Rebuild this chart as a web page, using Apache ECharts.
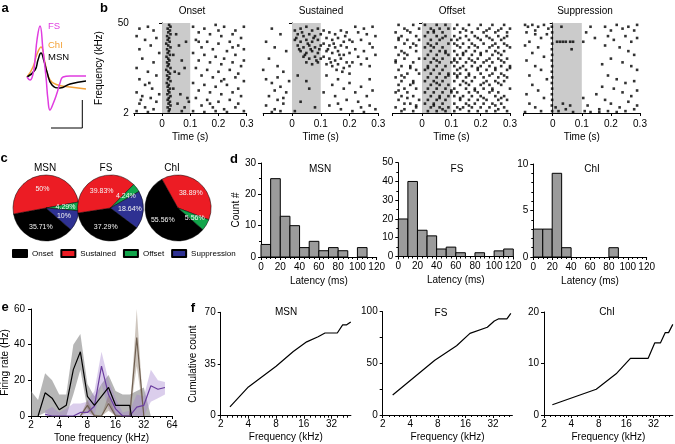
<!DOCTYPE html>
<html><head><meta charset="utf-8">
<script src="https://cdn.jsdelivr.net/npm/echarts@6/dist/echarts.min.js"></script>
<style>html,body{margin:0;padding:0;background:#fff}#c{width:675px;height:444px}</style>
</head><body><div id="c"></div>
<script>
// ---------- panel a: mean waveforms [t, amplitude] ----------
const wfFS  = [[0,0],[3,-3],[6,3],[8,17],[10,37],[13,51],[16,27],[19,0],[21,-23],[23,-33],[26,-27],[30,-16],[33,-6],[36,0],[43,1],[59,1]];
const wfChI = [[0,0],[6,10],[10,23],[14,30],[18,14],[23,-3],[31,-8],[43,-10],[59,-12]];
const wfMSN = [[0,0],[8,7],[11,17],[14,24],[17,16],[20,5],[25,-8],[33,-11],[43,-7],[59,-4]];
const scaleBar = [[24,-51],[55.3,-51],[55.3,-23]];

// ---------- panel b: rasters [time s, frequency kHz] ----------
const onsetDots = [
[0.025,49],[0.03,48],[0.02,47],[0.028,46],[0.022,45],[0.03,44],[0.018,43],[0.025,42],[0.02,41],[0.027,40],[0.015,39],[0.022,38],[0.03,37],[0.018,36],[0.025,35],[0.02,34],[0.028,33],[0.016,32],[0.022,31],[0.026,30],[0.018,29],[0.024,28],[0.02,27],[0.03,26],[0.015,25],[0.022,24],[0.028,23],[0.018,22],[0.025,21],[0.021,20],[0.03,19],[0.017,18],[0.024,17],[0.02,16],[0.028,15],[0.022,14],[0.026,13],[0.019,12],[0.03,11],[0.024,10],[0.02,9],[0.028,8],[0.023,7],[0.03,6],[0.02,5],[0.027,4],[0.024,3],
[0.05,44],[0.07,30],[0.045,24],[0.06,23],[0.08,26],[0.04,15],[0.065,12],[0.09,10],[0.055,7],[0.08,5],[0.095,8],[0.07,3],[0.04,33],[0.085,40],[0.06,38],
[-0.08,47],[-0.05,48],[-0.03,46],[-0.09,43],[-0.06,41],[-0.02,42],[-0.04,38],[-0.08,36],[-0.01,34],[-0.07,31],[-0.03,29],[-0.09,26],[-0.05,24],[-0.02,22],[-0.08,20],[-0.06,17],[-0.035,15],[-0.09,13],[-0.07,11],[-0.04,10],[-0.02,8],[-0.08,7],[-0.06,5],[-0.03,4],[-0.09,3],[-0.05,2.5],[-0.01,12],[-0.075,9],[-0.045,18],
[0.11,48],[0.15,47],[0.19,49],[0.22,48],[0.26,46],[0.29,48],[0.13,45],[0.17,44],[0.21,43],[0.25,44],[0.28,42],[0.12,41],[0.16,40],[0.2,39],[0.24,40],[0.27,38],[0.14,37],[0.18,36],[0.23,35],[0.29,36],[0.11,34],[0.15,33],[0.19,32],[0.22,31],[0.26,33],[0.13,30],[0.17,29],[0.21,28],[0.25,29],[0.28,27],[0.12,26],[0.16,25],[0.2,24],[0.24,25],[0.27,23],[0.14,22],[0.18,21],[0.22,20],[0.26,21],[0.29,19],[0.11,18],[0.15,17],[0.19,16],[0.23,17],[0.27,15],[0.13,14],[0.17,13],[0.21,12],[0.25,13],[0.28,11],[0.12,10],[0.16,9],[0.2,8],[0.24,9],[0.27,7],[0.14,6],[0.18,5],[0.22,4],[0.26,5],[0.29,3],[0.11,3],[0.15,2.5],[0.19,3],[0.23,2.5],[0.17,7],[0.21,19],[0.25,37],[0.29,30],[0.13,40],[0.2,46]
];
const sustainedDots = [
[-0.07,47],[-0.04,44],[-0.09,40],[-0.06,37],[-0.02,35],[-0.08,31],[-0.05,27],[-0.03,24],[-0.09,20],[-0.07,18],[-0.04,16],[-0.06,14],[-0.02,13],[-0.08,11],[-0.05,9],[-0.03,7],[-0.09,6],[-0.06,4],[-0.04,3],[-0.07,2.5],[-0.01,19],[-0.05,21],[-0.1,25],[-0.03,10],
[0.01,46],[0.03,47],[0.05,48],[0.07,46],[0.09,47],[0.02,44],[0.04,43],[0.06,44],[0.08,43],[0.1,44],[0.01,41],[0.03,40],[0.05,41],[0.07,40],[0.09,41],[0.02,38],[0.04,37],[0.06,38],[0.08,37],[0.1,38],[0.03,35],[0.05,34],[0.07,35],[0.09,34],[0.04,32],[0.06,31],[0.08,32],[0.1,31],[0.05,29],[0.07,28],[0.09,29],[0.015,42],[0.035,45],[0.055,39],[0.075,42],[0.095,36],[0.025,36],[0.045,33],[0.065,36],[0.085,30],
[0.02,22],[0.06,15],[0.03,8],[0.08,5],[0.01,3],[0.05,19],
[0.11,46],[0.13,45],[0.15,44],[0.17,46],[0.19,45],[0.12,42],[0.14,41],[0.16,42],[0.18,40],[0.2,41],[0.11,39],[0.13,38],[0.15,37],[0.17,38],[0.19,37],[0.12,35],[0.14,34],[0.16,35],[0.18,33],[0.2,34],[0.11,32],[0.13,31],[0.15,30],[0.17,31],[0.19,29],[0.12,28],[0.14,27],[0.16,28],[0.18,26],[0.2,27],[0.125,36],[0.145,39],[0.165,33],[0.185,43],[0.135,29],[0.155,25],[0.175,24],
[0.22,48],[0.25,47],[0.28,48],[0.23,45],[0.26,44],[0.29,43],[0.21,40],[0.24,41],[0.27,39],[0.22,36],[0.25,35],[0.28,37],[0.23,32],[0.26,31],[0.29,33],[0.21,29],[0.24,28],[0.27,27],
[0.12,22],[0.16,20],[0.2,18],[0.24,16],[0.28,14],[0.14,17],[0.18,15],[0.22,13],[0.26,11],[0.11,13],[0.15,11],[0.19,9],[0.23,8],[0.27,6],[0.13,6],[0.17,4],[0.21,3],[0.25,2.5],[0.29,4],[0.2,23],[0.27,20],[0.16,7],[0.24,5]
];
// offset raster given as trial rows: [frequency, spike times]
const offsetRows = [
[49,[-0.08,-0.03,0.01,0.05,0.08,0.12,0.16,0.2,0.24,0.28]],
[47,[-0.06,-0.01,0.03,0.06,0.09,0.11,0.14,0.19,0.23,0.27,0.3]],
[46,[-0.05,0.04,0.15,0.22,0.26]],
[45,[-0.09,-0.04,0.02,0.04,0.07,0.13,0.17,0.21,0.25,0.29]],
[43,[-0.07,-0.02,0.01,0.05,0.08,0.11,0.15,0.18,0.22,0.26,0.29]],
[42,[-0.08,0.07,0.13,0.19,0.23,0.28]],
[41,[-0.08,-0.05,-0.01,0.03,0.06,0.1,0.12,0.16,0.2,0.24,0.27]],
[39,[-0.06,-0.03,0.02,0.05,0.09,0.11,0.14,0.17,0.21,0.25,0.28]],
[38,[-0.02,0.03,0.12,0.18,0.24,0.29]],
[37,[-0.09,-0.04,0.01,0.04,0.07,0.13,0.16,0.19,0.23,0.26,0.3]],
[35,[-0.07,-0.02,0.03,0.06,0.08,0.11,0.15,0.18,0.22,0.25,0.28]],
[34,[-0.06,0.08,0.14,0.2,0.26]],
[33,[-0.08,-0.05,0.02,0.05,0.09,0.12,0.14,0.17,0.2,0.24,0.27]],
[31,[-0.06,-0.01,0.01,0.04,0.07,0.11,0.13,0.16,0.19,0.23,0.26,0.29]],
[30,[-0.09,0.05,0.11,0.17,0.22,0.27]],
[29,[-0.09,-0.03,0.03,0.06,0.1,0.12,0.15,0.18,0.21,0.24,0.28]],
[27,[-0.07,-0.04,0.02,0.05,0.08,0.11,0.14,0.17,0.2,0.23,0.27,0.3]],
[26,[-0.04,0.02,0.13,0.19,0.25,0.3]],
[25,[-0.08,-0.02,0.01,0.04,0.07,0.12,0.15,0.19,0.22,0.25,0.29]],
[23,[-0.05,-0.01,0.03,0.06,0.09,0.11,0.13,0.16,0.2,0.24,0.27]],
[22,[-0.07,0.09,0.12,0.16,0.23,0.28]],
[21,[-0.09,-0.06,0.02,0.05,0.08,0.12,0.15,0.18,0.21,0.26,0.29]],
[19,[-0.07,-0.03,0.01,0.04,0.07,0.11,0.14,0.17,0.22,0.25,0.28]],
[18,[-0.03,0.05,0.15,0.21,0.26]],
[17,[-0.08,-0.04,0.03,0.06,0.09,0.13,0.16,0.2,0.23,0.27]],
[15,[-0.06,-0.02,0.02,0.05,0.08,0.11,0.15,0.18,0.21,0.24,0.3]],
[14,[-0.08,0.1,0.18,0.24]],
[13,[-0.09,-0.05,0.01,0.04,0.07,0.1,0.12,0.16,0.19,0.23,0.26]],
[11,[-0.07,-0.03,0.03,0.06,0.09,0.11,0.14,0.17,0.2,0.25,0.28]],
[10,[-0.05,0.06,0.13,0.21,0.27]],
[9,[-0.08,-0.01,0.02,0.05,0.08,0.13,0.16,0.19,0.22,0.26,0.29]],
[7,[-0.06,-0.04,0.01,0.04,0.07,0.11,0.15,0.18,0.21,0.24,0.27]],
[6,[-0.02,0.04,0.16,0.25]],
[5,[-0.09,-0.02,0.03,0.06,0.09,0.12,0.14,0.17,0.2,0.23,0.28]],
[4,[-0.06,0.07,0.13,0.26]],
[3,[-0.07,-0.03,0.02,0.05,0.08,0.11,0.16,0.19,0.22,0.25,0.29]]
];
const suppressionDots = [
[-0.095,49],[-0.085,48],[-0.07,49],[-0.05,48],[-0.03,49],[-0.015,47],[-0.09,45],[-0.06,44],[-0.04,42],[-0.08,40],[-0.095,38],[-0.05,37],[-0.07,34],[-0.03,32],[-0.09,30],[-0.06,27],[-0.04,25],[-0.08,22],[-0.02,20],[-0.07,17],[-0.05,14],[-0.09,12],[-0.03,10],[-0.08,7],[-0.06,5],[-0.04,3],[-0.095,2.5],[-0.02,44],[-0.06,46],
[-0.003,48],[-0.002,45],[-0.003,42],[-0.002,39],[-0.003,36],[-0.002,33],[-0.003,30],[-0.002,27],[-0.003,24],[-0.002,21],[-0.003,18],[-0.002,15],[-0.003,12],[-0.002,9],[-0.003,6],[-0.002,3],
[0.015,40],[0.025,40],[0.035,40],[0.045,40],[0.06,40],[0.07,40],[0.065,36],[0.01,5],[0.02,3],[0.035,7],[0.045,4],[0.06,6],[0.07,2.5],[0.03,48],
[0.105,40],[0.115,45],[0.13,48],[0.145,42],[0.11,3],[0.12,6],[0.13,2.5],[0.16,4],[0.105,10],
[0.18,48],[0.2,46],[0.22,49],[0.24,47],[0.26,48],[0.28,46],[0.29,49],[0.19,43],[0.21,41],[0.25,43],[0.27,40],[0.29,42],[0.18,38],[0.23,37],[0.26,35],[0.28,33],[0.2,31],[0.24,29],[0.27,27],[0.29,25],[0.19,22],[0.22,20],[0.25,18],[0.28,19],[0.17,16],[0.21,15],[0.24,13],[0.27,11],[0.29,14],[0.18,9],[0.2,7],[0.23,5],[0.26,8],[0.28,4],[0.16,2.5],[0.19,3],[0.22,2.5],[0.25,3],[0.29,6],[0.15,12],[0.17,28]
];
const rasterTitles = ['Onset','Sustained','Offset','Suppression'];

// ---------- panel c: response type percentages ----------
const pieNames  = ['Onset','Sustained','Offset','Suppression'];
const pieColors = ['#000000','#ec1c24','#12a54b','#2e3192'];
const pctMSN = [35.71, 50, 4.29, 10];
const pctFS  = [37.29, 39.83, 4.24, 18.64];
const pctChI = [55.56, 38.89, 5.56, 0];

// ---------- panel d: latency histograms (10 ms bins) ----------
const binStarts = [0,10,20,30,40,50,60,70,80,90,100,110];
const latMSN = [4,25,13,10,3,5,2,3,2,0,3,0];
const latFS  = [20,40,14,11,4,5,2,0,2,0,3,4];
const latChI = [3,3,9,1,0,0,0,0,1,0,0,0];

// ---------- panel e: tuning curves [kHz, Hz] and bands [kHz, low, high] ----------
const rateBlack  = [[2.38,0],[2.83,13],[3.36,10],[4,3.5],[4.76,6],[5.66,26],[6.73,36],[8,11],[9.51,6],[11.31,11],[13.45,16],[16,6],[19.03,6],[22.63,6],[23.6,0]];
const rateBrown  = [[6.73,0],[8,6],[9.51,0],[11.31,0],[13.45,7],[16,0],[19.03,0],[22.63,0],[26.91,44],[32,0]];
const ratePurple = [[2.83,1],[3.36,0],[4,0],[4.76,0],[5.66,0],[6.73,2],[8,2],[9.51,5.5],[11.31,28],[13.45,12],[16,4],[19.03,0],[22.63,0],[26.91,5],[32,6],[38.05,17],[45.25,15],[53.82,16]];
const bandBlack  = [[2,0,14],[2.38,0,9],[2.83,2,24],[3.36,0,20],[4,0,12],[4.76,0,12],[5.66,12,40],[6.73,26,46],[8,4,18],[9.51,0,11],[11.31,0,18],[13.45,8,23],[16,0,14],[19.03,0,12],[22.63,0,12],[26.91,0,14],[32,0,16],[38.05,0,0]];
const bandPurple = [[2.83,0,3],[3.36,0,5],[4,0,2],[4.76,0,4],[5.66,0,7],[6.73,0,7],[8,0,8],[9.51,0,14],[11.31,18,36],[13.45,4,20],[16,0,10],[19.03,0,2],[22.63,0,3],[26.91,0,12],[32,0,11],[38.05,8,26],[45.25,10,20],[53.82,12,19]];
const bandBrown  = [[6.73,0,0],[8,2,9],[9.51,0,1],[11.31,0,0],[13.45,3,12],[16,0,1],[19.03,0,0],[22.63,0,0],[26.91,28,60],[32,0,0]];

// ---------- panel f: cumulative counts [kHz, count] ----------
const cumMSN = [[2.52,6],[4,19.5],[8,33.5],[12.3,43.5],[17.2,50],[22.9,53.5],[27.2,56],[37,56],[42.3,61.5],[46.8,61.5],[51.8,63.5]];
const cumFS  = [[2.57,19.4],[7.4,53],[12.8,67],[17.9,79],[27.7,85],[33,91],[36.5,93],[45.3,93],[50,98.4]];
const cumChI = [[2.47,2],[7.5,5],[12.4,8],[17.8,11],[27.9,11],[32.9,14],[38,14],[43,16],[46.7,16],[52,17.6]];
const fTicks = [2,4,8,16,32];

// ================= build =================
const FONT = '"Liberation Sans", Arial, Helvetica, sans-serif';
const offsetDots = [];
offsetRows.forEach(r => r[1].forEach(t => offsetDots.push([t, r[0]])));
const rasterData = [onsetDots, sustainedDots, offsetDots, suppressionDots];

const AL = {show:true, lineStyle:{color:'#000', width:1}};
const AT = {show:true, length:3, lineStyle:{color:'#000', width:1}};
const lab = (o) => Object.assign({fontSize:10, color:'#000', fontFamily:FONT}, o||{});
const nameStyle = {fontSize:10, color:'#000', fontFamily:FONT};

const grids = [
  [27,17,60,120],
  [133.8,23,112.9,90],[263.2,23,115.1,90],[392.7,23,117.3,90],[523.6,23,116.4,90],
  [261,163,115.7,94],[398.3,162.7,115,93.8],[533.3,164,113.4,93],
  [31,309,141,107],
  [220.7,312.3,130.2,103.4],[382.7,311.7,129.7,103.3],[544,312,128.8,103]
].map(g => ({left:g[0], top:g[1], width:g[2], height:g[3], containLabel:false, outerBoundsMode:'none'}));

const xAxes = [], yAxes = [], series = [];
// a
xAxes.push({type:'value', gridIndex:0, min:0, max:60, show:false});
yAxes.push({type:'value', gridIndex:0, min:-60, max:60, show:false});
// b
for (let i = 0; i < 4; i++) {
  xAxes.push({type:'value', gridIndex:1+i, min:-0.1, max:0.3, interval:0.1, axisLine:AL, axisTick:AT, splitLine:{show:false},
    axisLabel:lab({margin:6, formatter: v => v < -0.05 ? '' : String(Math.round(v*10)/10)}),
    name:'Time (s)', nameLocation:'middle', nameGap:19, nameTextStyle:nameStyle});
  yAxes.push({type:'value', gridIndex:1+i, min:2, max:50, axisLine:AL, axisTick:Object.assign({}, AT, {customValues:[2,50]}),
    splitLine:{show:false}, axisLabel:lab({show:i===0, margin:5, customValues:[2,50]}),
    name: i===0 ? 'Frequency (kHz)' : '', nameLocation:'middle', nameGap:30, nameRotate:90, nameTextStyle:nameStyle});
}
// d
const hMax = [30,50,10], hInt = [10,10,5], hMinor = [2,2,5];
for (let i = 0; i < 3; i++) {
  xAxes.push({type:'value', gridIndex:5+i, min:0, max:120, interval:20, axisLine:AL, axisTick:AT,
    minorTick:{show:true, splitNumber:4, length:2, lineStyle:{color:'#000'}}, splitLine:{show:false}, minorSplitLine:{show:false},
    axisLabel:lab({margin:5}), name:'Latency (ms)', nameLocation:'middle', nameGap:19, nameTextStyle:nameStyle});
  yAxes.push({type:'value', gridIndex:5+i, min:0, max:hMax[i], interval:hInt[i], axisLine:AL, axisTick:AT,
    minorTick:{show:true, splitNumber:hMinor[i], length:2, lineStyle:{color:'#000'}}, splitLine:{show:false}, minorSplitLine:{show:false},
    axisLabel:lab({margin:5}), name: i===0 ? 'Count #' : '', nameLocation:'middle', nameGap:19, nameRotate:90, nameTextStyle:nameStyle});
}
// e
xAxes.push({type:'log', logBase:2, gridIndex:8, min:2, max:64, axisLine:AL, axisTick:AT, splitLine:{show:false},
  minorTick:{show:true, splitNumber:4, length:2, lineStyle:{color:'#000'}}, minorSplitLine:{show:false},
  axisLabel:lab({margin:4}), name:'Tone frequency (kHz)', nameLocation:'middle', nameGap:17, nameTextStyle:nameStyle});
yAxes.push({type:'value', gridIndex:8, min:0, max:60, interval:20, axisLine:AL, axisTick:AT, splitLine:{show:false},
  axisLabel:lab({margin:6}), name:'Firing rate (Hz)', nameLocation:'middle', nameGap:16, nameRotate:90, nameTextStyle:nameStyle});
// f
const fMax = [70,100,20], fInt = [35,50,10], fMinor = [0,2,0];
for (let i = 0; i < 3; i++) {
  xAxes.push({type:'log', logBase:2, gridIndex:9+i, min:2, max:52, axisLine:AL, axisTick:Object.assign({}, AT, {customValues:fTicks}), splitLine:{show:false},
    minorTick:{show:true, splitNumber:6, length:2, lineStyle:{color:'#000'}}, minorSplitLine:{show:false},
    axisLabel:lab({margin:4, customValues:fTicks}), name:'Frequency (kHz)', nameLocation:'middle', nameGap:17, nameTextStyle:nameStyle});
  yAxes.push({type:'value', gridIndex:9+i, min:0, max:fMax[i], interval:fInt[i], axisLine:AL, axisTick:AT, splitLine:{show:false},
    minorTick:{show:fMinor[i]>0, splitNumber:fMinor[i]||1, length:3, lineStyle:{color:'#000'}}, minorSplitLine:{show:false},
    axisLabel:lab({margin:5}), name: i===0 ? 'Cumulative count' : '', nameLocation:'middle', nameGap:22, nameRotate:90, nameTextStyle:nameStyle});
}

// series a
const wfLine = (d, c) => ({type:'line', xAxisIndex:0, yAxisIndex:0, data:d, smooth:0.5, symbol:'none', lineStyle:{color:c, width:1.5}, silent:true});
series.push(wfLine(wfChI, '#f3a33a'), wfLine(wfMSN, '#000'), wfLine(wfFS, '#e03ce0'));
series.push({type:'line', xAxisIndex:0, yAxisIndex:0, data:scaleBar, symbol:'none', lineStyle:{color:'#000', width:1}, silent:true});
// series b
for (let i = 0; i < 4; i++) {
  series.push({type:'scatter', xAxisIndex:1+i, yAxisIndex:1+i, data:[], z:1, silent:true,
    markArea:{silent:true, itemStyle:{color:'#cbcbcb'}, data:[[{xAxis:0},{xAxis:0.1}]]}});
  series.push({type:'scatter', xAxisIndex:1+i, yAxisIndex:1+i, data:rasterData[i], symbol:'rect', symbolSize:2.6, z:3,
    itemStyle:{color:'#000'}, silent:true});
}
// series c
const pieCfg = [[pctMSN,46],[pctFS,110.5],[pctChI,178]];
const pieStart = [319, 323, 319];
pieCfg.forEach((p, k) => {
  series.push({type:'pie', center:[p[1],208], radius:[0,33], startAngle:pieStart[k], clockwise:true, silent:true,
    data: p[0].map((v, j) => ({name:pieNames[j], value:v, itemStyle:{color:pieColors[j]}})).filter(d => d.value > 0),
    label:{show:true, position:'inner', formatter: q => q.value + '%', fontSize:7, color:'#f4f4f4', fontFamily:FONT},
    labelLine:{show:false}, itemStyle:{borderColor:'#000', borderWidth:0.5}, emphasis:{disabled:true}});
});
// series d
function histItem(binW){ return function(params, api){
  const x0 = api.value(0), v = api.value(1);
  if (!v) return null;
  const a = api.coord([x0, v]), b = api.coord([x0 + binW, 0]);
  return {type:'rect', shape:{x:a[0], y:a[1], width:b[0]-a[0], height:b[1]-a[1]}, style:{fill:'#9b9b9b', stroke:'#000', lineWidth:1}};
};}
[latMSN, latFS, latChI].forEach((arr, i) => {
  series.push({type:'custom', xAxisIndex:5+i, yAxisIndex:5+i, renderItem:histItem(10), silent:true, clip:false,
    data: binStarts.map((b, j) => [b, arr[j]]), encode:{x:0, y:1}});
});
// series e
function bandItem(band, color){ return function(params, api){
  if (params.dataIndex !== 0) return null;
  const pts = [];
  band.forEach(b => pts.push(api.coord([b[0], b[2]])));
  for (let i = band.length - 1; i >= 0; i--) pts.push(api.coord([band[i][0], band[i][1]]));
  return {type:'polygon', shape:{points:pts}, style:{fill:color}};
};}
[[bandBlack,'rgba(110,110,110,0.5)'],[bandPurple,'rgba(160,125,205,0.38)'],[bandBrown,'rgba(125,105,85,0.38)']].forEach(b => {
  series.push({type:'custom', xAxisIndex:8, yAxisIndex:8, renderItem:bandItem(b[0], b[1]), silent:true,
    data: b[0].map(r => [r[0], r[1]]), encode:{x:0, y:1}});
});
const eLine = (d, c) => ({type:'line', xAxisIndex:8, yAxisIndex:8, data:d, symbol:'none', lineStyle:{color:c, width:1.2}, silent:true});
series.push(eLine(rateBrown, '#6f5f50'), eLine(ratePurple, '#6a3d9e'), eLine(rateBlack, '#000'));
// series f
[cumMSN, cumFS, cumChI].forEach((d, i) => {
  series.push({type:'line', xAxisIndex:9+i, yAxisIndex:9+i, data:d, symbol:'none', lineStyle:{color:'#000', width:1.2}, silent:true});
});

// texts
const T = (text, x, y, o) => ({type:'text', x:x, y:y, silent:true,
  style:Object.assign({text:text, fill:'#000', font:'10px ' + FONT, textAlign:'center', textVerticalAlign:'middle', align:'center', verticalAlign:'middle'}, o||{})});
const letter = (t, x, y) => T(t, x, y, {font:'bold 13px ' + FONT});
const graphics = [
  letter('a', 5, 8), letter('b', 104, 8), letter('c', 4, 158), letter('d', 234, 159), letter('e', 5, 307), letter('f', 193, 308),
  T('FS', 48, 26, {fill:'#e03ce0', font:'9.5px ' + FONT, textAlign:'left', align:'left'}),
  T('ChI', 48, 45, {fill:'#f3a33a', font:'9.5px ' + FONT, textAlign:'left', align:'left'}),
  T('MSN', 48, 57, {font:'9.5px ' + FONT, textAlign:'left', align:'left'}),
  T(rasterTitles[0], 192, 11), T(rasterTitles[1], 321, 11), T(rasterTitles[2], 452, 11), T(rasterTitles[3], 585, 11),
  T('MSN', 45, 168), T('FS', 106, 168), T('ChI', 172, 168),
  T('MSN', 320, 169), T('FS', 457, 169), T('ChI', 592, 169),
  T('MSN', 286, 312), T('FS', 441, 313), T('ChI', 607, 312)
];

const chart = echarts.init(document.getElementById('c'), null, {renderer:'canvas'});
chart.setOption({
  animation:false,
  backgroundColor:'#fff',
  textStyle:{fontFamily:FONT},
  grid:grids, xAxis:xAxes, yAxis:yAxes, series:series,
  legend:{data:pieNames, left:12, top:249, itemWidth:14, itemHeight:7, itemGap:7, icon:'rect', padding:0,
    selectedMode:false, textStyle:{fontSize:8, color:'#000', fontFamily:FONT}},
  graphic:graphics
});
</script></body></html>
